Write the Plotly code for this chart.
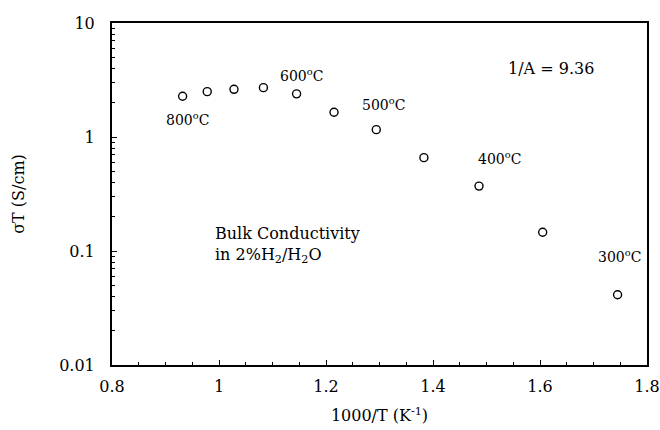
import math
import plotly.graph_objects as go

# Data
inv_T = [0.932, 0.978, 1.028, 1.083, 1.145, 1.215, 1.294, 1.383, 1.486, 1.605, 1.745]
sigma_T = [2.28, 2.50, 2.62, 2.71, 2.39, 1.65, 1.16, 0.659, 0.371, 0.146, 0.0413]

x_ticks = [0.8, 1.0, 1.2, 1.4, 1.6, 1.8]
x_tick_labels = ["0.8", "1", "1.2", "1.4", "1.6", "1.8"]
y_ticks = [0.01, 0.1, 1, 10]
y_tick_labels = ["0.01", "0.1", "1", "10"]

temp_labels = ["800<sup>o</sup>C", "600<sup>o</sup>C", "500<sup>o</sup>C", "400<sup>o</sup>C", "300<sup>o</sup>C"]
temp_label_x = [0.941, 1.155, 1.308, 1.525, 1.748]
temp_label_y = [1.43, 3.48, 1.94, 0.66, 0.0897]

FONT = "DejaVu Serif"

fig = go.Figure()
fig.add_trace(go.Scatter(
    x=inv_T, y=sigma_T, mode="markers",
    marker=dict(symbol="circle-open", size=8, color="black", line=dict(width=1.4, color="black")),
    showlegend=False,
))

for t, xx, yy in zip(temp_labels, temp_label_x, temp_label_y):
    fig.add_annotation(x=xx, y=math.log10(yy), yref="y", xref="x", text=t, showarrow=False,
                       font=dict(family=FONT, size=14, color="black"))

fig.add_annotation(x=1.621, y=math.log10(4.01), text="1/A = 9.36", showarrow=False,
                   font=dict(family=FONT, size=16, color="black"))
fig.add_annotation(x=0.989, y=math.log10(0.112), text="Bulk Conductivity<br>in 2%H<sub>2</sub>/H<sub>2</sub>O",
                   showarrow=False, xanchor="left", align="left",
                   font=dict(family=FONT, size=16, color="black"))

fig.update_layout(
    width=660, height=430,
    margin=dict(l=112, r=13, t=23, b=65, autoexpand=False),
    paper_bgcolor="white", plot_bgcolor="white",
    font=dict(family=FONT, size=16, color="black"),
)
fig.update_xaxes(
    range=[0.8, 1.8], tickvals=x_ticks, ticktext=x_tick_labels,
    ticks="inside", ticklen=5, tickwidth=1.2, tickcolor="black",
    minor=dict(dtick=0.05, ticks="inside", ticklen=3, tickcolor="black", showgrid=False),
    showline=True, linecolor="black", linewidth=2, mirror=True,
    showgrid=False, zeroline=False, automargin=False,
    title=dict(text="1000/T (K<sup>-1</sup>)", font=dict(family=FONT, size=16), standoff=15),
    tickfont=dict(family=FONT, size=16), ticklabelstandoff=6,
)
fig.update_yaxes(
    type="log", range=[-2, 1], tickvals=y_ticks, ticktext=y_tick_labels,
    ticks="inside", ticklen=5, tickwidth=1.2, tickcolor="black",
    minor=dict(tickvals=[m * 10 ** e for e in (-2, -1, 0) for m in range(2, 10)],
               ticks="inside", ticklen=3, tickcolor="black", showgrid=False),
    showline=True, linecolor="black", linewidth=2, mirror=True,
    showgrid=False, zeroline=False, automargin=False,
    title=dict(text="σT (S/cm)", font=dict(family=FONT, size=16), standoff=31),
    tickfont=dict(family=FONT, size=16), ticklabelstandoff=12,
)

fig.write_html("out.html", config={"displayModeBar": False},
               post_script="document.body.style.margin='0px';")
